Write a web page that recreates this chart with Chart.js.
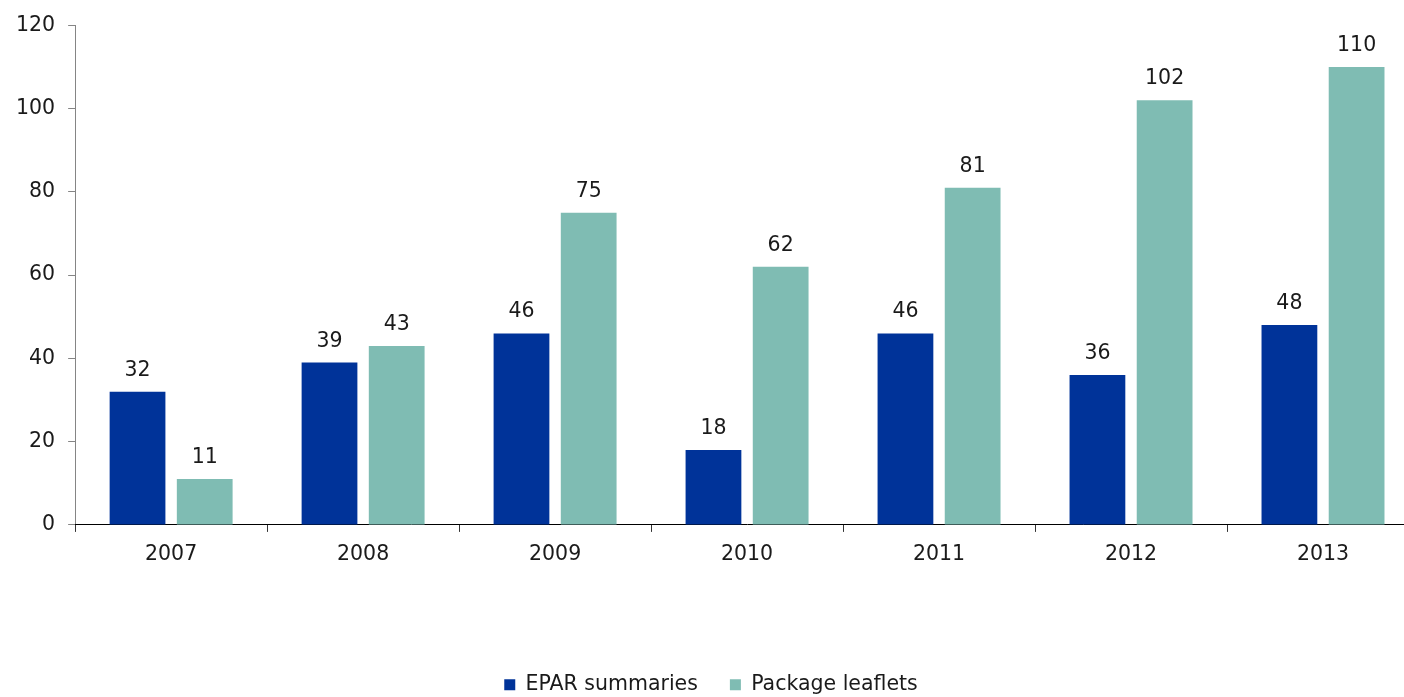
<!DOCTYPE html>
<html>
<head>
<meta charset="utf-8">
<script src="https://cdn.jsdelivr.net/npm/chart.js@4/dist/chart.umd.min.js"></script>
<style>
    html, body { margin: 0; padding: 0; background: #fff; overflow: hidden; }
    #wrap { width: 1420px; height: 697px; position: relative; }
</style>
</head>
<body>
<div id="wrap"><canvas id="docsChart"></canvas></div>
<script>
const years = ['2007', '2008', '2009', '2010', '2011', '2012', '2013'];
const eparSummaries = [32, 39, 46, 18, 46, 36, 48];
const packageLeaflets = [11, 43, 75, 62, 81, 102, 110];
const yTicks = [0, 20, 40, 60, 80, 100, 120];

const FONT = 'DejaVu Sans';
const FONT_SIZE = 20.5;
const TEXT = '#1a1a1a';

// Value printed above each bar
const barValues = {
    id: 'barValues',
    afterDatasetsDraw(chart) {
        const ctx = chart.ctx;
        ctx.save();
        ctx.font = FONT_SIZE + 'px "' + FONT + '"';
        ctx.fillStyle = TEXT;
        ctx.textAlign = 'center';
        ctx.textBaseline = 'alphabetic';
        chart.data.datasets.forEach((ds, i) => {
            chart.getDatasetMeta(i).data.forEach((bar, j) => {
                ctx.fillText(ds.data[j], bar.x, bar.y - 16);
            });
        });
        ctx.restore();
    }
};

// Pull the legend up a bit
const legendFit = {
    id: 'legendFit',
    beforeInit(chart) {
        const fit = chart.legend.fit;
        chart.legend.fit = function () {
            fit.bind(chart.legend)();
            this.height -= 8;
        };
    }
};

const ctx = document.getElementById('docsChart').getContext('2d');
new Chart(ctx, {
    type: 'bar',
    data: {
        labels: years,
        datasets: [{
            label: 'EPAR summaries',
            data: eparSummaries,
            backgroundColor: '#003399',
            borderWidth: 0
        }, {
            label: 'Package leaflets',
            data: packageLeaflets,
            backgroundColor: '#7fbcb3',
            borderWidth: 0
        }]
    },
    options: {
        responsive: true,
        maintainAspectRatio: false,
        animation: false,
        categoryPercentage: 0.70,
        barPercentage: 0.83,
        layout: { padding: { top: 18, left: 3, right: 1, bottom: 0 } },
        scales: {
            y: {
                min: 0,
                max: 120,
                afterBuildTicks: scale => { scale.ticks = yTicks.map(v => ({ value: v })); },
                border: { display: true, color: '#858585', width: 1 },
                grid: { drawOnChartArea: false, tickLength: 7, color: '#858585' },
                ticks: {
                    padding: 13,
                    color: TEXT,
                    font: { family: FONT, size: FONT_SIZE }
                }
            },
            x: {
                border: { display: true, color: '#000', width: 1 },
                grid: { drawOnChartArea: false, tickLength: 7, color: '#333', offset: true },
                ticks: {
                    padding: 10,
                    color: TEXT,
                    font: { family: FONT, size: FONT_SIZE }
                },
                afterFit: scale => { scale.height += 66; }
            }
        },
        plugins: {
            legend: {
                position: 'bottom',
                labels: {
                    boxWidth: 11,
                    boxHeight: 11,
                    padding: 32,
                    color: TEXT,
                    font: { family: FONT, size: FONT_SIZE }
                }
            },
            tooltip: { enabled: false }
        }
    },
    plugins: [barValues, legendFit]
});
</script>
</body>
</html>
